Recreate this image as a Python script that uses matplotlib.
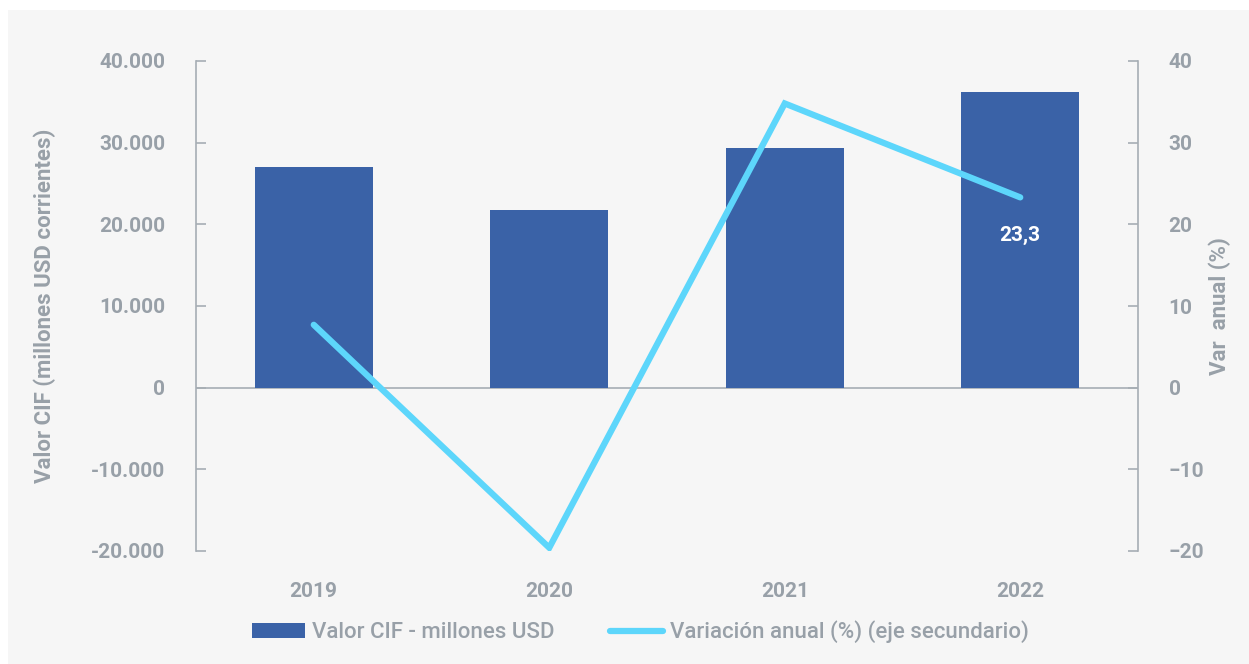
import matplotlib.pyplot as plt
from matplotlib.patches import Rectangle
from matplotlib.ticker import FuncFormatter

years = ['2019', '2020', '2021', '2022']
valor_cif = [27060, 21800, 29400, 36250]      # millones USD
var_anual = [7.7, -19.6, 34.8, 23.3]          # %

BAR = '#3a62a7'
LINE = '#5dd6fb'
GRAY = '#98a0a8'
BG = '#f6f6f6'

plt.rcParams['font.family'] = ['Roboto', 'DejaVu Sans']

fig = plt.figure(figsize=(12.49, 6.64), dpi=100, facecolor='white')
fig.patches.append(Rectangle((8 / 1249, 0), 1, 1 - 10 / 664, transform=fig.transFigure,
                             facecolor=BG, edgecolor='none', zorder=-10))

ax = fig.add_axes([196 / 1249, 1 - 551 / 664, 942 / 1249, 490 / 664])
ax.set_facecolor(BG)
ax2 = ax.twinx()

x = range(len(years))
bars = ax.bar(x, valor_cif, width=0.5, color=BAR, zorder=2, label='Valor CIF - millones USD')
ax.axhline(0, color='#a6adb4', lw=1.2, zorder=1)
ax.set_xlim(-0.5, 3.5)
ax.set_ylim(-20000, 40000)
ax.set_yticks(range(-20000, 40001, 10000))
ax.yaxis.set_major_formatter(FuncFormatter(lambda v, p: f'{int(v):,}'.replace(',', '.')))
ax.set_xticks(list(x))
ax.set_xticklabels(years)

line, = ax2.plot(x, var_anual, color=LINE, lw=4.5, solid_capstyle='round',
                 solid_joinstyle='miter', zorder=3, label='Variación anual (%) (eje secundario)')
ax2.set_ylim(-20, 40)
ax2.set_yticks(range(-20, 41, 10))
ax2.text(3, var_anual[3] - 4.6, '23,3', color='white', fontsize=15, fontweight='bold',
         ha='center', va='center')

for a in (ax, ax2):
    for s in ('top', 'bottom'):
        a.spines[s].set_visible(False)
    a.spines['left'].set_visible(a is ax)
    a.spines['right'].set_visible(a is ax2)
    a.spines['left'].set_color('#a6adb4')
    a.spines['right'].set_color('#a6adb4')
    a.spines['left'].set_linewidth(1.2)
    a.spines['right'].set_linewidth(1.2)
    a.tick_params(axis='y', direction='in', length=7, width=1.2, color='#a6adb4',
                  labelcolor=GRAY, labelsize=15, pad=22)
    for t in a.get_yticklabels():
        t.set_fontweight('bold')
ax.tick_params(axis='x', length=0, labelcolor=GRAY, labelsize=15, pad=22)
for t in ax.get_xticklabels():
    t.set_fontweight('bold')

ax.set_ylabel('Valor CIF (millones USD corrientes)', color=GRAY, fontsize=16,
              fontweight='bold', labelpad=25)
ax2.set_ylabel('Var  anual (%)', color=GRAY, fontsize=16, fontweight='bold', labelpad=3)

ax2.set_zorder(ax.get_zorder() + 1)
ax2.patch.set_visible(False)

leg = fig.legend([bars, line], ['Valor CIF - millones USD', 'Variación anual (%) (eje secundario)'],
                 loc='center', bbox_to_anchor=(640 / 1249, 1 - 632 / 664), ncol=2,
                 frameon=False, fontsize=16, handlelength=2.4, handletextpad=0.3,
                 columnspacing=2.5)
for t in leg.get_texts():
    t.set_color(GRAY)
    t.set_fontweight('medium')

fig.savefig('out.png', dpi=100, facecolor='white')
